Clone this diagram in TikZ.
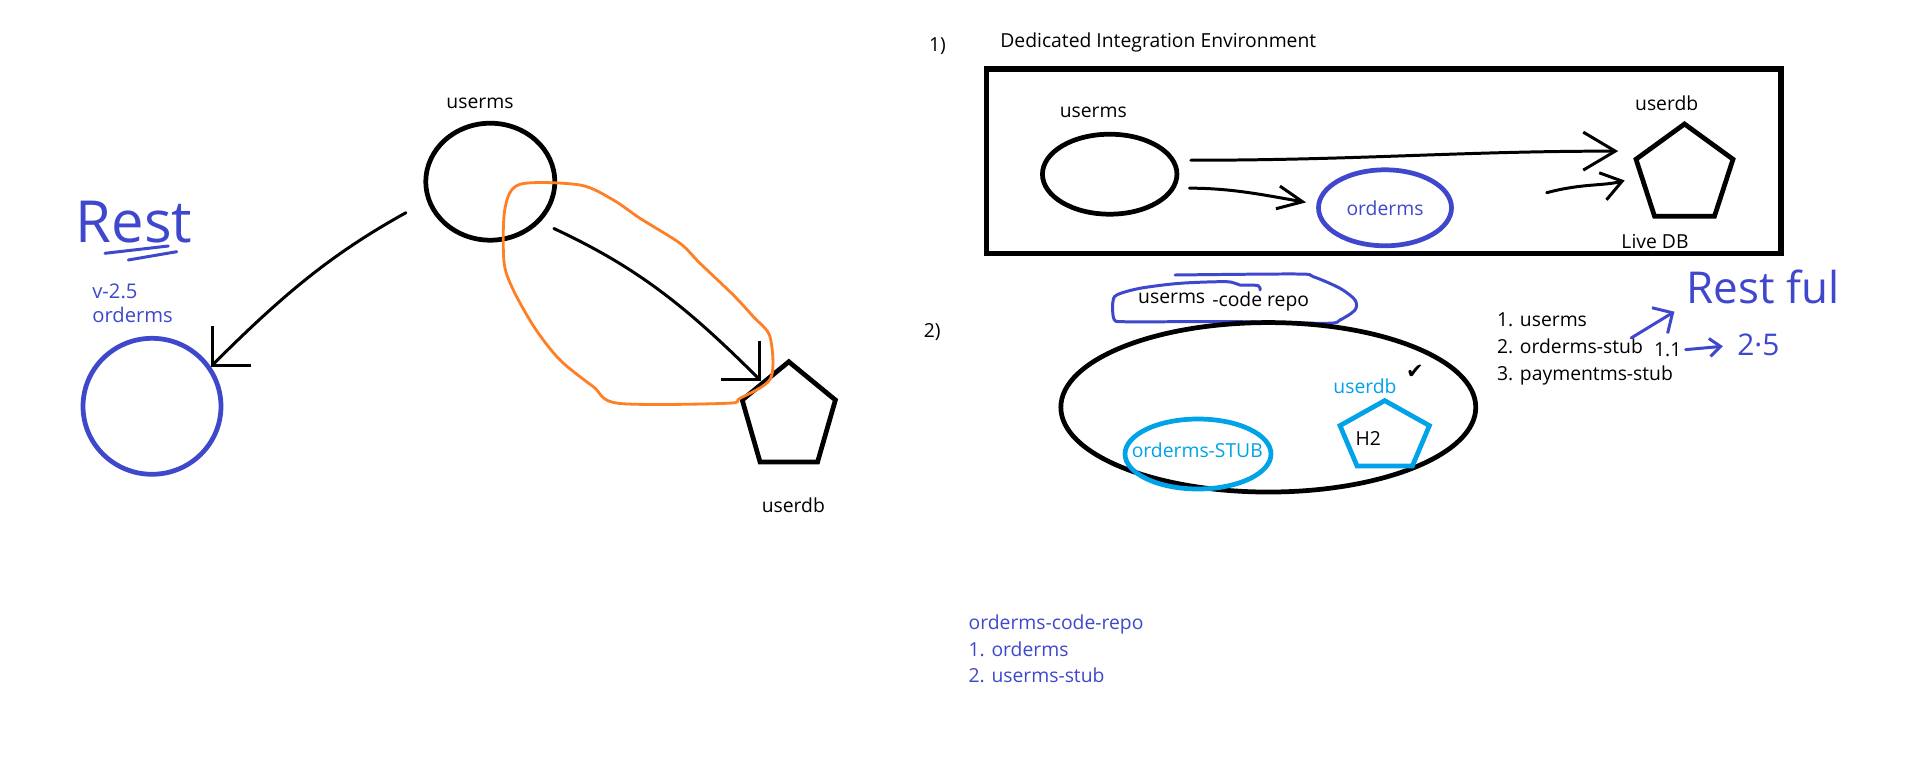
\documentclass[tikz,border=0pt]{standalone}
\usepackage{fontspec}
\setmainfont{Open Sans}
\newfontfamily\symfont{DejaVu Sans}
\usepackage{xcolor}
\usetikzlibrary{arrows.meta,shapes.geometric}
\definecolor{paintblue}{RGB}{63,72,204}
\definecolor{paintorange}{RGB}{255,127,39}
\definecolor{paintteal}{RGB}{0,162,232}

\begin{document}
\begin{tikzpicture}[x=0.02cm, y=-0.02cm,
    lbl/.style={font=\fontsize{11}{15.2}\selectfont, inner sep=0pt},
    svc/.style={lbl, draw, ellipse, line width=2.7pt},
    db/.style={draw, regular polygon, regular polygon sides=5, line width=2.7pt, inner sep=0pt},
    hand/.style={line width=1.7pt, line cap=round, line join=round},
    lhead/.style={hand, -{Straight Barb[length=0.55cm, width=1.1cm]}},
    hw/.style={text=paintblue, inner sep=0pt}
]
    \path[fill=white] (0,0) rectangle (1914,761);
    \useasboundingbox (0,0) rectangle (1914,761);

    \node[lbl] (usermsLtxt) at (480,103.3) {userms};
    \node[svc, minimum width=2.58cm, minimum height=2.34cm] (usermsL) at (490.3,181.7) {};
    \node[svc, draw=paintblue, minimum width=2.76cm, minimum height=2.72cm] (ordermsL) at (152,406.3) {};
    \node[lbl, text=paintblue, align=left, anchor=north west, font=\fontsize{11.5}{13.5}\selectfont] (verL) at (92,283.3) {v-2.5\\orderms};
    \node[hw, font=\fontsize{33}{33}\selectfont] (restL) at (134,222) {Rest};
    \draw[paintblue, hand] (105,253.3) -- (168.3,246);
    \draw[paintblue, hand] (128.3,260) -- (176.7,251.7);
    \begin{scope}[shift={(788.8,417.1)}, yscale=1.13]
        \node[db, transform shape, minimum size=1.96cm] (userdbL) at (0,0) {};
    \end{scope}
    \node[lbl] (userdbLtxt) at (793.3,505) {userdb};

    \draw[lhead, shorten <=0.48cm] (usermsL.197) to[out=209, in=45] (ordermsL.34);
    \draw[lhead, shorten <=0.3cm] (usermsL.-39) to[out=-25, in=135] (userdbL.131);
    \draw[paintorange, hand, line width=1.6pt] plot[smooth cycle, tension=0.5] coordinates {
        (520,184.3) (580,185) (613.3,200) (640,218.3) (680,243.3) (700,263.3)
        (733.3,295) (753.3,316.7) (770,336.7) (770.7,378.3) (740,398.3)
        (726.7,403.3) (618.3,403.3) (593.3,386.7) (560,360) (535,328.3)
        (513.3,290) (504,261.7) (505,208.3)};

    \node[lbl] (one) at (937.5,46.4) {1)};
    \node[lbl, anchor=west] (envtitle) at (1000,42.7) {Dedicated Integration Environment};
    \node[draw, line width=3pt, inner sep=0pt, minimum width=15.886cm, minimum height=3.694cm] (envbox) at (1383.9,161.4) {};
    \node[lbl] (usermsRtxt) at (1093.3,112.7) {userms};
    \node[svc, minimum width=2.69cm, minimum height=1.6cm] (usermsR) at (1109.7,174.2) {};
    \node[svc, draw=paintblue, text=paintblue, minimum width=2.66cm, minimum height=1.52cm] (ordermsR) at (1385,207.8) {orderms};
    \node[db, minimum size=2.04cm] (userdbR) at (1684.5,175) {};
    \node[lbl] (userdbRtxt) at (1666.7,103.3) {userdb};
    \node[lbl] (livedb) at (1655,241.7) {Live DB};
    \coordinate (fromlive) at (1546.7,192.7);

    \draw[hand, -{Straight Barb[length=0.64cm, width=0.76cm]}, shorten <=0.31cm, shorten >=0.5cm] (usermsR.12) to[out=0, in=180] (userdbR.150);
    \draw[hand, -{Straight Barb[length=0.5cm, width=0.46cm]}, shorten <=0.28cm, shorten >=0.21cm] (usermsR.-12) to[out=0, in=170] (ordermsR.177);
    \draw[hand, -{Straight Barb[length=0.4cm, width=0.56cm]}, shorten >=0.3cm] (fromlive) to[out=15, in=195] (userdbR.182);

    \node[lbl] (two) at (932.3,331.7) {2)};
    \draw[paintblue, hand] plot[smooth, tension=0.5] coordinates {
        (1260,290) (1258,285.5) (1240,285) (1226.7,281.7) (1180,283.3) (1140,288.3)
        (1116.7,295) (1112.7,303.3) (1114,319.3) (1123.3,321.7) (1180,321.7)
        (1240,321.7) (1326.7,323.3) (1340,320) (1355,310) (1355,300) (1340,288.3)
        (1313.3,276.7) (1296.7,274) (1175,275)};
    \node[lbl] (reponame) at (1171.7,298.3) {userms};
    \node[lbl] (repotail) at (1260.7,301.7) {-code repo};
    \node[svc, minimum width=8.3cm, minimum height=3.39cm] (repoU) at (1268.3,407.3) {};
    \node[svc, draw=paintteal, minimum width=2.92cm, minimum height=1.4cm] (stubO) at (1198,454) {};
    \node[lbl, text=paintteal] (stubtxt) at (1197.3,450.7) {orderms-STUB};
    \begin{scope}[shift={(1384.7,436.8)}, yscale=0.77]
        \node[db, draw=paintteal, transform shape, minimum size=1.88cm] (h2db) at (0,0) {};
    \end{scope}
    \node[lbl] (h2txt) at (1368.3,438.3) {H2};
    \node[lbl, text=paintteal] (h2name) at (1365,386.7) {userdb};
    \node[lbl, font=\symfont\fontsize{12}{12}\selectfont] (tick) at (1415,371.7) {✔};

    \node[lbl, anchor=base west] (l1) at (1496.7,326.9) {1. userms};
    \node[lbl, anchor=base west] (l2) at (1496.7,353) {2. orderms-stub};
    \node[lbl, anchor=base west] (l3) at (1496.7,380.2) {3. paymentms-stub};
    \node[lbl] (n11) at (1667.7,350) {1.1};
    \node[hw, font=\fontsize{17}{17}\selectfont] (n25) at (1758.3,345) {2·5};
    \node[hw, font=\fontsize{25}{25}\selectfont] (restR) at (1763,287) {Rest ful};
    \draw[paintblue, hand, -{Straight Barb[length=0.22cm, width=0.36cm]}, shorten <=0.08cm, shorten >=0.28cm] (n11.east) -- (n25.west);
    \draw[paintblue, hand, -{Straight Barb[length=0.3cm, width=0.6cm]}, shorten >=0.28cm] ([xshift=-0.24cm]l2.north east) -- (restR.south west);

    \node[lbl, text=paintblue, align=left, anchor=north west] (orderrepo) at (968.3,614.3) {orderms-code-repo\\1. orderms\\2. userms-stub};
\end{tikzpicture}
\end{document}
